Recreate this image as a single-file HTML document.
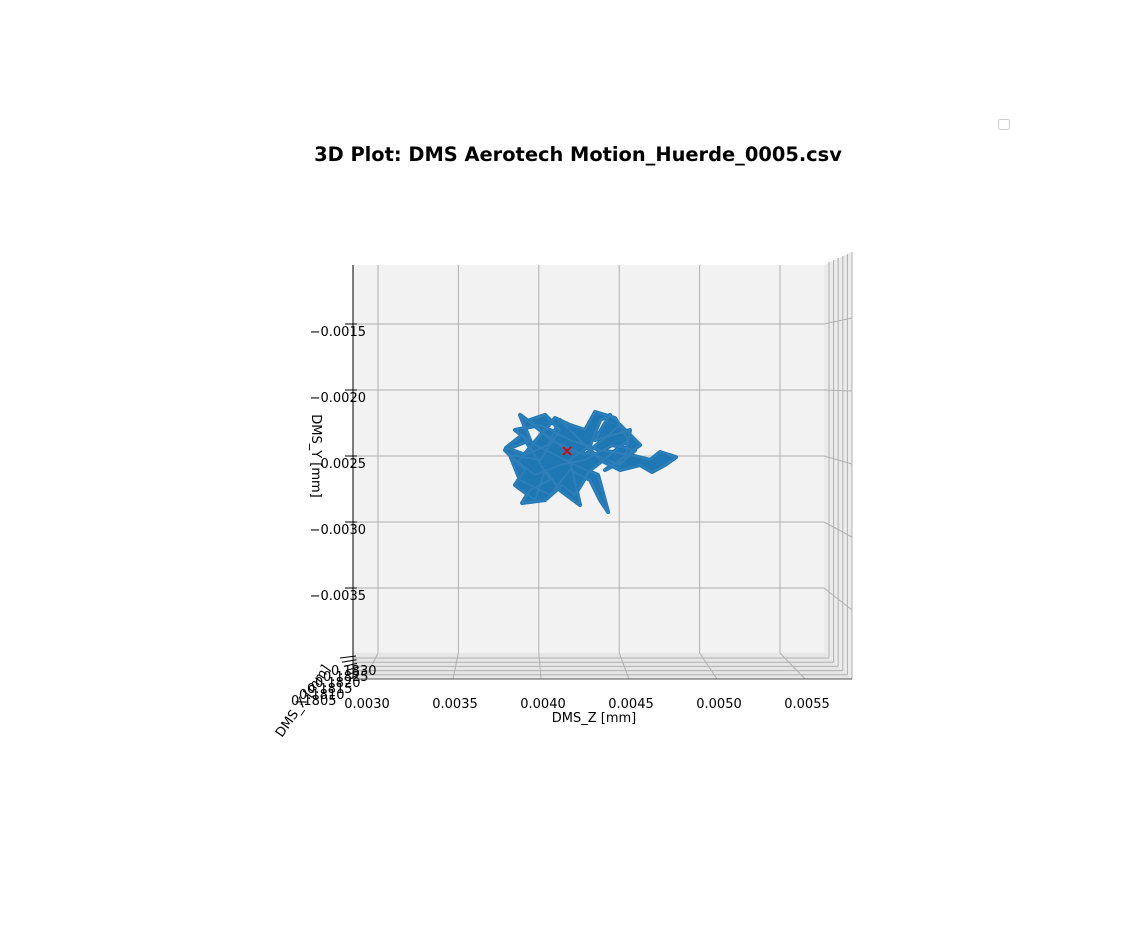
<!DOCTYPE html>
<html><head><meta charset="utf-8"><style>
body{margin:0;background:#fff;}
svg{display:block;font-family:"DejaVu Sans","Liberation Sans",sans-serif;}
</style></head><body>
<svg id="chart" width="1129" height="933" viewBox="0 0 1129 933">
<text x="578" y="161" text-anchor="middle" font-size="19.4" font-weight="bold">3D Plot: DMS Aerotech Motion_Huerde_0005.csv</text>
<rect x="998.5" y="119.5" width="11" height="10" rx="2" fill="#fff" stroke="#ccc"/>
<g id="panes">
<polygon points="824,265 852,252 852,679 824,653" fill="#ebebeb"/>
<polygon points="353,653 824,653 852,679 353,679" fill="#e6e6e6"/>
<rect x="353" y="265" width="471" height="388" fill="#f2f2f2"/>
</g>
<g id="grid"></g>
<g id="axes"></g>
<g id="data"></g>
<text x="594" y="722" text-anchor="middle" font-size="13">DMS_Z [mm]</text>
<text x="0" y="0" transform="translate(312,456) rotate(90)" text-anchor="middle" font-size="13">DMS_Y [mm]</text>
<text x="0" y="0" transform="translate(282,738) rotate(-55)" font-size="13">DMS_X [mm]</text>
</svg>
<script>
const zTicks=[0.0030,0.0035,0.0040,0.0045,0.0050,0.0055];
const zTickLabels=["0.0030","0.0035","0.0040","0.0045","0.0050","0.0055"];
const yTicks=[-0.0015,-0.0020,-0.0025,-0.0030,-0.0035];
const yTickLabels=["\u22120.0015","\u22120.0020","\u22120.0025","\u22120.0030","\u22120.0035"];
const xDepthTickLabels=["0.1805","0.1810","0.1815","0.1820","0.1825","0.1830"];
const trajZ=[0.004176,0.004008,0.003883,0.003945,0.003790,0.003914,0.003852,0.003977,0.004039,0.004132,0.004256,0.004194,0.004319,0.004381,0.004443,0.004350,0.004567,0.004536,0.004412,0.004630,0.004505,0.004288,0.004070,0.003945,0.004039,0.004132,0.004008,0.003820,0.003883,0.004070,0.004194,0.004319,0.004381,0.004431,0.004368,0.004225,0.004101,0.003977,0.003852,0.004008,0.004194,0.004381,0.004567,0.004692,0.004754,0.004854,0.004785,0.004704,0.004630,0.004505,0.004381,0.004256,0.004132,0.004057,0.003914,0.003796,0.003896,0.004070,0.003945,0.003896,0.004039,0.004144,0.004225,0.004319,0.004443,0.004555,0.004474,0.004350,0.004288,0.004194,0.004101,0.003995,0.003871,0.003977,0.004132,0.004288,0.004455,0.004599,0.004505,0.004350,0.004176];
const trajY=[-0.002462,-0.002303,-0.002189,-0.002379,-0.002455,-0.002606,-0.002720,-0.002833,-0.002606,-0.002758,-0.002871,-0.002530,-0.002417,-0.002227,-0.002189,-0.002379,-0.002303,-0.002530,-0.002606,-0.002417,-0.002265,-0.002492,-0.002379,-0.002227,-0.002189,-0.002303,-0.002530,-0.002492,-0.002682,-0.002795,-0.002606,-0.002682,-0.002833,-0.002924,-0.002644,-0.002568,-0.002492,-0.002417,-0.002303,-0.002265,-0.002379,-0.002455,-0.002492,-0.002530,-0.002470,-0.002508,-0.002568,-0.002621,-0.002568,-0.002606,-0.002530,-0.002379,-0.002227,-0.002417,-0.002492,-0.002439,-0.002341,-0.002682,-0.002758,-0.002856,-0.002833,-0.002720,-0.002795,-0.002606,-0.002492,-0.002379,-0.002212,-0.002167,-0.002303,-0.002265,-0.002212,-0.002364,-0.002545,-0.002644,-0.002568,-0.002530,-0.002417,-0.002455,-0.002568,-0.002492,-0.002462];
const startZ=[0.004176];
const startY=[-0.002462];

const NS="http://www.w3.org/2000/svg";
function mk(tag,attrs,parent){const e=document.createElementNS(NS,tag);for(const k in attrs)e.setAttribute(k,attrs[k]);parent.appendChild(e);return e;}
const zBack=z=>378+(z-0.003)/0.0005*80.4;
const yBack=y=>324+(-0.0015-y)/0.0005*66;
const zFront=z=>365+(z-0.003)/0.0005*88;
const yFront=y=>318+(-0.0015-y)/0.0005*73;
const grid=document.getElementById('grid'),axes=document.getElementById('axes'),data=document.getElementById('data');

zTicks.forEach((z,i)=>{
  let l=mk('line',{x1:zBack(z),y1:265,x2:zBack(z),y2:653,stroke:'#b0b0b0','stroke-width':1},grid);
  
  
  let l2=mk('line',{x1:zBack(z),y1:653,x2:zFront(z),y2:679,stroke:'#b0b0b0','stroke-width':1},grid);
  
  
  let t=mk('text',{x:zFront(z)+2,y:708,'text-anchor':'middle','font-size':13},axes);
  t.textContent=zTickLabels[i];
  
  
});
yTicks.forEach((y,i)=>{
  let l=mk('line',{x1:353,y1:yBack(y),x2:824,y2:yBack(y),stroke:'#b0b0b0','stroke-width':1},grid);
  
  
  let l2=mk('line',{x1:824,y1:yBack(y),x2:852,y2:yFront(y),stroke:'#b0b0b0','stroke-width':1},grid);
  
  
  let tk=mk('line',{x1:345,y1:yBack(y),x2:357,y2:yBack(y),stroke:'#000','stroke-width':1},axes);
  
  
  let t=mk('text',{x:366,y:yBack(y)+12,'text-anchor':'end','font-size':13},axes);
  t.textContent=yTickLabels[i];
  
  
});
for(let i=0;i<6;i++){
  const xr=829+i*4.6, yb=658+i*4.2;
  let v=mk('line',{x1:xr,y1:262-i*2,x2:xr,y2:yb,stroke:'#b0b0b0','stroke-width':1},grid);
  
  
  let h=mk('line',{x1:353,y1:yb,x2:xr,y2:yb,stroke:'#b0b0b0','stroke-width':1},grid);
  
  
  let tk=mk('line',{x1:340+i*2,y1:yb,x2:356+i*0.5,y2:yb-2-i*0.5,stroke:'#000','stroke-width':1},axes);
  
  
  let t=mk('text',{x:291+i*8,y:705-i*6,'font-size':13},axes);
  t.textContent=xDepthTickLabels[i];
  
  
}
let ax1=mk('line',{x1:353,y1:265,x2:353,y2:679,stroke:'#000','stroke-width':1},axes);


let ax2=mk('line',{x1:353,y1:679,x2:852,y2:679,stroke:'#555','stroke-width':1},axes);



const pts=trajZ.map((z,i)=>zBack(z).toFixed(1)+','+yBack(trajY[i]).toFixed(1)).join(' ');
let fill=mk('polyline',{points:pts,fill:'#1f77b4',stroke:'#1f77b4','stroke-width':4,'stroke-linejoin':'round','stroke-linecap':'round'},data);


let thin=mk('polyline',{points:pts,fill:'none',stroke:'#2c7fb8','stroke-width':2,'stroke-linejoin':'round'},data);


startZ.forEach((z,i)=>{
  const cx=zBack(z),cy=yBack(startY[i]);
  let g=mk('path',{d:`M${cx-4},${cy-4}L${cx+4},${cy+4}M${cx-4},${cy+4}L${cx+4},${cy-4}`,stroke:'#e00000','stroke-width':1.8},data);
  
  
});
</script>
</body></html>
